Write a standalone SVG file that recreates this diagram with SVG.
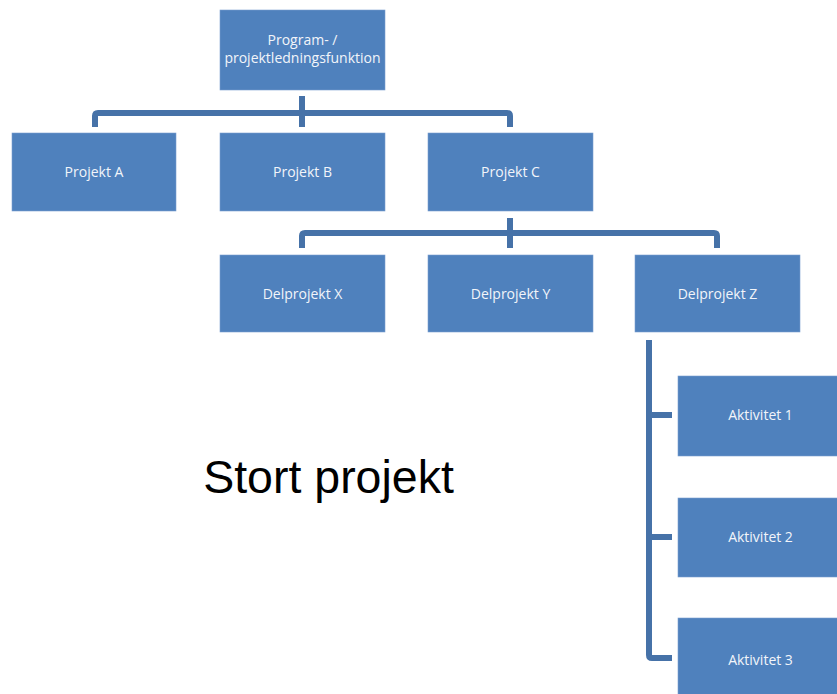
<svg xmlns="http://www.w3.org/2000/svg" width="837" height="694" viewBox="0 0 837 694">
<style>
.box{fill:#4f81bd;stroke:#7a9fd0;stroke-width:0.6}
.lbl{font-family:"Open Sans","Noto Sans",sans-serif;font-size:14px;fill:#f2f5fa;text-anchor:middle}
.con{fill:none;stroke:#4672a8;stroke-width:6;stroke-linejoin:round}
</style>
<defs>
<clipPath id="clipTop"><rect x="220" y="10" width="165" height="80"/></clipPath>
</defs>
<rect width="837" height="694" fill="#ffffff"/>
<g id="connectors">
<path class="con" d="M302 96V127M95 127V116Q95 113 98 113H507Q510 113 510 116V127"/>
<path class="con" d="M510 218V248M302 248V236Q302 233 305 233H714Q717 233 717 236V248"/>
<path class="con" d="M649 340V655Q649 658 652 658H672M649 415H672M649 537H672"/>
</g>
<g id="top">
<rect class="box" x="220" y="10" width="165" height="80"/>
<g clip-path="url(#clipTop)">
<text class="lbl" x="302.5" y="44.5">Program- /</text>
<text class="lbl" x="302.5" y="63">projektledningsfunktion</text>
</g>
</g>
<g id="projektA"><rect class="box" x="12" y="133" width="164" height="78"/><text class="lbl" x="94" y="177">Projekt A</text></g>
<g id="projektB"><rect class="box" x="220" y="133" width="165" height="78"/><text class="lbl" x="302.5" y="177">Projekt B</text></g>
<g id="projektC"><rect class="box" x="428" y="133" width="165" height="78"/><text class="lbl" x="510.5" y="177">Projekt C</text></g>
<g id="delX"><rect class="box" x="220" y="255" width="165" height="77"/><text class="lbl" x="302.5" y="299">Delprojekt X</text></g>
<g id="delY"><rect class="box" x="428" y="255" width="165" height="77"/><text class="lbl" x="510.5" y="299">Delprojekt Y</text></g>
<g id="delZ"><rect class="box" x="635" y="255" width="165" height="77"/><text class="lbl" x="717.5" y="299">Delprojekt Z</text></g>
<g id="akt1"><rect class="box" x="678" y="376" width="165" height="80"/><text class="lbl" x="760.5" y="420">Aktivitet 1</text></g>
<g id="akt2"><rect class="box" x="678" y="498" width="165" height="79"/><text class="lbl" x="760.5" y="542">Aktivitet 2</text></g>
<g id="akt3"><rect class="box" x="678" y="618" width="165" height="80"/><text class="lbl" x="760.5" y="665">Aktivitet 3</text></g>
<text x="328.5" y="493" font-family="'Liberation Sans',Arial,sans-serif" font-size="46.5" fill="#000000" text-anchor="middle">Stort projekt</text>
</svg>
